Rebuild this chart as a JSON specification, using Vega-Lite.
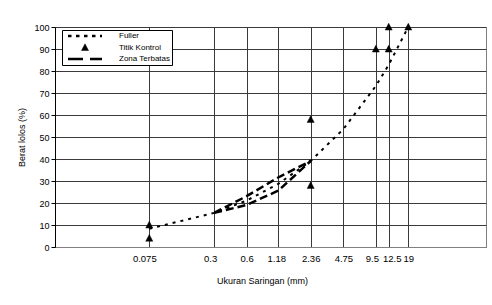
{
  "$schema": "https://vega.github.io/schema/vega-lite/v6.json",
  "width": 431,
  "height": 220,
  "autosize": "none",
  "padding": {"left": 55, "top": 27, "right": 6, "bottom": 58},
  "background": "white",
  "config": {
    "font": "Liberation Sans",
    "view": {"stroke": "#808080", "strokeWidth": 1},
    "axis": {"labelFont": "Liberation Sans", "titleFont": "Liberation Sans", "labelColor": "black", "titleColor": "black", "titleFontWeight": "normal", "labelFontSize": 9, "titleFontSize": 9, "gridColor": "#3a3a3a", "gridOpacity": 1, "gridWidth": 1}
  },
  "data": {
    "values": [
      {"type": "fuller", "group": "Fuller", "sieve": 0.075, "pass": 8.3},
      {"type": "fuller", "group": "Fuller", "sieve": 0.3, "pass": 15.5},
      {"type": "fuller", "group": "Fuller", "sieve": 0.6, "pass": 21.1},
      {"type": "fuller", "group": "Fuller", "sieve": 1.18, "pass": 28.7},
      {"type": "fuller", "group": "Fuller", "sieve": 2.36, "pass": 39.1},
      {"type": "fuller", "group": "Fuller", "sieve": 4.75, "pass": 53.6},
      {"type": "fuller", "group": "Fuller", "sieve": 9.5, "pass": 73.2},
      {"type": "fuller", "group": "Fuller", "sieve": 12.5, "pass": 82.8},
      {"type": "fuller", "group": "Fuller", "sieve": 19, "pass": 100},
      {"type": "kontrol", "group": "Titik Kontrol", "sieve": 0.075, "pass": 4},
      {"type": "kontrol", "group": "Titik Kontrol", "sieve": 0.075, "pass": 10},
      {"type": "kontrol", "group": "Titik Kontrol", "sieve": 2.36, "pass": 28},
      {"type": "kontrol", "group": "Titik Kontrol", "sieve": 2.36, "pass": 58},
      {"type": "kontrol", "group": "Titik Kontrol", "sieve": 9.5, "pass": 90},
      {"type": "kontrol", "group": "Titik Kontrol", "sieve": 12.5, "pass": 90},
      {"type": "kontrol", "group": "Titik Kontrol", "sieve": 12.5, "pass": 100},
      {"type": "kontrol", "group": "Titik Kontrol", "sieve": 19, "pass": 100},
      {"type": "zona", "group": "bawah", "sieve": 0.3, "pass": 15.5},
      {"type": "zona", "group": "bawah", "sieve": 0.6, "pass": 19.1},
      {"type": "zona", "group": "bawah", "sieve": 1.18, "pass": 25.6},
      {"type": "zona", "group": "bawah", "sieve": 2.36, "pass": 39.1},
      {"type": "zona", "group": "atas", "sieve": 0.3, "pass": 15.5},
      {"type": "zona", "group": "atas", "sieve": 0.6, "pass": 23.1},
      {"type": "zona", "group": "atas", "sieve": 1.18, "pass": 31.6},
      {"type": "zona", "group": "atas", "sieve": 2.36, "pass": 39.1}
    ]
  },
  "encoding": {
    "x": {
      "field": "sieve", "type": "quantitative",
      "scale": {"type": "log", "domain": [0.01, 100]},
      "axis": {
        "title": "Ukuran Saringan (mm)",
        "values": [0.075, 0.3, 0.6, 1.18, 2.36, 4.75, 9.5, 12.5, 19],
        "labelExpr": "'' + datum.value",
        "labelOverlap": false,
        "labelFlush": false,
        "labelFontSize": 9.5,
        "ticks": false,
        "labelPadding": 6,
        "domainColor": "#808080",
        "titlePadding": 14,
        "titleX": 207,
        "labelOffset": {
          "condition": [
            {"test": "datum.value === 0.075", "value": -5},
            {"test": "datum.value === 0.3", "value": -4},
            {"test": "datum.value === 1.18", "value": -2},
            {"test": "datum.value === 9.5", "value": -4},
            {"test": "datum.value === 12.5", "value": 3}
          ],
          "value": 0
        }
      }
    },
    "y": {
      "field": "pass", "type": "quantitative",
      "scale": {"domain": [0, 100]},
      "axis": {
        "title": "Berat lolos (%)",
        "values": [0, 10, 20, 30, 40, 50, 60, 70, 80, 90, 100],
        "tickSize": 4,
        "tickColor": "black",
        "domainColor": "black",
        "labelPadding": 2,
        "titlePadding": 7
      }
    }
  },
  "layer": [
    {
      "transform": [{"filter": "datum.type === 'zona'"}],
      "mark": {"type": "line", "color": "black", "strokeWidth": 2.5, "strokeDash": [8, 4]},
      "encoding": {"detail": {"field": "group"}}
    },
    {
      "transform": [{"filter": "datum.type === 'fuller'"}],
      "mark": {"type": "line", "color": "black", "strokeWidth": 2, "strokeDash": [3, 5]}
    },
    {
      "transform": [{"filter": "datum.type === 'kontrol'"}],
      "mark": {"type": "point", "filled": true, "fill": "black", "stroke": "black", "opacity": 1, "size": 45},
      "encoding": {
        "shape": {
          "field": "group", "type": "nominal",
          "scale": {"domain": ["Fuller", "Titik Kontrol", "Zona Terbatas"], "range": ["M-5.07,0H5.07", "M0,-1.1L1.05,0.9L-1.05,0.9Z", "M-5.07,0H5.07"]},
          "legend": {
            "title": null,
            "orient": "none",
            "legendX": 7,
            "legendY": 3,
            "padding": 1,
            "fillColor": "white",
            "strokeColor": "black",
            "symbolSize": 45,
            "symbolOffset": 17,
            "labelFont": "Liberation Sans",
            "labelFontSize": 8,
            "labelColor": "black",
            "labelOffset": 29,
            "rowPadding": 1.5
          }
        },
        "strokeDash": {
          "field": "group", "type": "nominal",
          "scale": {"domain": ["Fuller", "Titik Kontrol", "Zona Terbatas"], "range": [[3.5, 4.5], [1, 0], [15, 7]]},
          "legend": {"title": null}
        },
        "strokeWidth": {
          "field": "group", "type": "nominal",
          "scale": {"type": "ordinal", "domain": ["Fuller", "Titik Kontrol", "Zona Terbatas"], "range": [2.5, 0.5, 2.5]},
          "legend": {"title": null}
        }
      }
    }
  ]
}
